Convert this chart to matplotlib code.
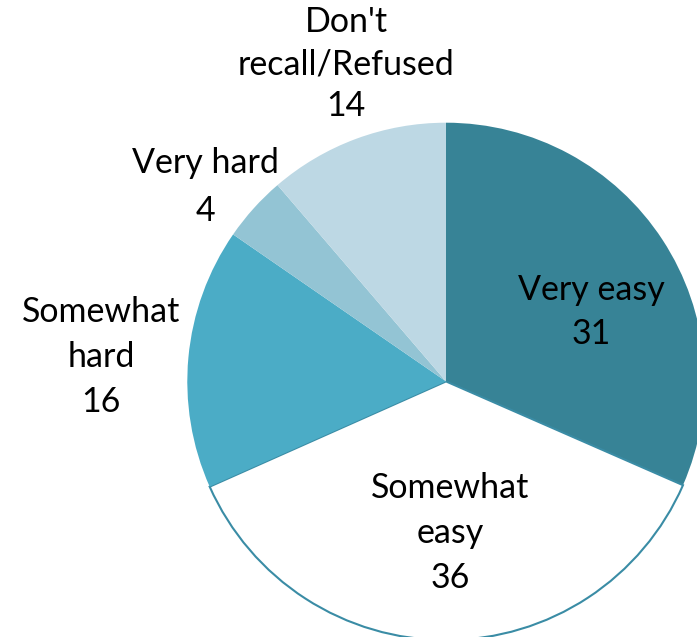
import matplotlib.pyplot as plt

categories = ["Very easy", "Somewhat easy", "Somewhat hard", "Very hard", "Don't recall/Refused"]
shares = [31.6, 36.8, 16.3, 4.1, 11.3]
label_texts = ["Very easy\n31", "Somewhat\neasy\n36", "Somewhat\nhard\n16", "Very hard\n4", "Don't\nrecall/Refused\n14"]

colors = ["#378396", "#ffffff", "#4bacc6", "#93c4d4", "#bdd8e4"]

W, H = 697, 637
fig = plt.figure(figsize=(W / 100, H / 100), dpi=100)
ax = fig.add_axes([0, 0, 1, 1])

cx, cy, r = 446, H - 381.4, 258.7
wedges, _ = ax.pie(shares, colors=colors, startangle=90, counterclock=False,
                   center=(cx, cy), radius=r, wedgeprops=dict(linewidth=0))
# the white slice has a thin teal outline
wedges[1].set_edgecolor("#3a8ca5")
wedges[1].set_linewidth(1.5)

ax.set_xlim(0, W)
ax.set_ylim(0, H)
ax.set_aspect("equal")
ax.axis("off")

# label block centres in image pixels (x, y from top)
label_pos = [(591, 312), (450, 533), (101, 357), (205, 187), (346, 64)]
spacing = [1.5, 1.5, 1.5, 1.6, 1.38]
for txt, (x, y), ls in zip(label_texts, label_pos, spacing):
    ax.text(x, H - y, txt, ha="center", va="center", fontsize=24.5,
            family="Lato", linespacing=ls, color="black")

fig.savefig("out.png", dpi=100)
